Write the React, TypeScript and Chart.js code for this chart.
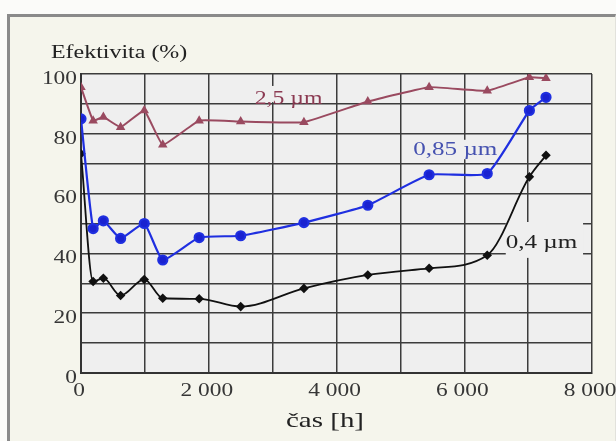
import React, { useEffect, useRef } from "react";
import { Chart, registerables } from "chart.js";

Chart.register(...registerables);

// time in hours
const hours = [0, 190, 350, 620, 990, 1280, 1850, 2500, 3490, 4490, 5450, 6360, 7020, 7280];
// efficiency (%) per particle size
const eff25 = [95.6, 84.4, 85.6, 82.2, 87.8, 76.3, 84.4, 84.1, 83.9, 90.8, 95.6, 94.4, 98.9, 98.6];
const eff085 = [85, 48.3, 50.9, 45, 50, 37.8, 45.3, 45.9, 50.3, 56.1, 66.3, 66.7, 87.8, 92.2];
const eff04 = [73.3, 30.6, 31.7, 25.9, 31.3, 25, 24.8, 22.2, 28.3, 32.8, 35, 39.4, 65.6, 72.8];

const seriesNames = ["2,5 µm", "0,85 µm", "0,4 µm"];
const xTickValues = [0, 2000, 4000, 6000, 8000];
const xTickTexts = ["0", "2 000", "4 000", "6 000", "8 000"];
const yTickValues = [0, 20, 40, 60, 80, 100];
const yTickTexts = ["0", "20", "40", "60", "80", "100"];
const yTitle = "Efektivita (%)";
const xTitle = "čas [h]";

const SERIF = "'Liberation Serif', 'DejaVu Serif', serif";

const toPts = (ys: number[]) => hours.map((h, i) => ({ x: h, y: ys[i] }));

// draw horizontally stretched serif text (the reference text is wide)
function stxt(
  ctx: CanvasRenderingContext2D,
  text: string,
  x: number,
  y: number,
  size: number,
  sx: number,
  align: "left" | "center" | "right",
  color: string
) {
  ctx.save();
  ctx.font = `${size}px ${SERIF}`;
  ctx.fillStyle = color;
  ctx.textBaseline = "middle";
  ctx.textAlign = "left";
  const w = ctx.measureText(text).width * sx;
  const left = align === "center" ? x - w / 2 : align === "right" ? x - w : x;
  ctx.translate(left, y);
  ctx.scale(sx, 1);
  ctx.fillText(text, 0, 0);
  ctx.restore();
}

const labelPlugin = {
  id: "labelPlugin",
  beforeDraw(chart: any) {
    const { ctx, chartArea } = chart;
    ctx.save();
    ctx.fillStyle = "#efefef";
    ctx.fillRect(chartArea.left, chartArea.top, chartArea.right - chartArea.left, chartArea.bottom - chartArea.top);
    ctx.restore();
  },
  beforeDatasetsDraw(chart: any) {
    const { ctx } = chart;
    const xs = chart.scales.x;
    const ys = chart.scales.y;
    ctx.save();
    ctx.fillStyle = "#efefef";
    const box = (x0: number, x1: number, y0: number, y1: number) => {
      const a = xs.getPixelForValue(x0);
      const b = xs.getPixelForValue(x1);
      const c = ys.getPixelForValue(y0);
      const d = ys.getPixelForValue(y1);
      ctx.fillRect(a, d, b - a, c - d);
    };
    box(2700, 3800, 90.6, 96);
    box(5200, 6520, 71.5, 78);
    box(6650, 7860, 38.5, 50.5);
    ctx.restore();
  },
  afterDatasetsDraw(chart: any) {
    const { ctx } = chart;
    const xs = chart.scales.x;
    const ys = chart.scales.y;
    stxt(ctx, seriesNames[0], xs.getPixelForValue(3250), ys.getPixelForValue(91.4), 18, 1.32, "center", "#8b3a52");
    stxt(ctx, seriesNames[1], xs.getPixelForValue(5860), ys.getPixelForValue(74.6), 19, 1.32, "center", "#4652b0");
    stxt(ctx, seriesNames[2], xs.getPixelForValue(7210), ys.getPixelForValue(43.5), 19, 1.32, "center", "#222222");
  },
  afterDraw(chart: any) {
    const { ctx, chartArea } = chart;
    const xs = chart.scales.x;
    const ys = chart.scales.y;
    xTickValues.forEach((v, i) => {
      stxt(ctx, xTickTexts[i], xs.getPixelForValue(v) - 2, chartArea.bottom + 18, 18, 1.3, "center", "#363636");
    });
    yTickValues.forEach((v, i) => {
      stxt(ctx, yTickTexts[i], chartArea.left - 4, ys.getPixelForValue(v) + 5, 18, 1.3, "right", "#363636");
    });
    stxt(ctx, yTitle, 51, 53, 18, 1.33, "left", "#222222");
    stxt(ctx, xTitle, 325, 421, 21, 1.38, "center", "#222222");
  },
};

export default function App() {
  const ref = useRef<HTMLCanvasElement | null>(null);
  useEffect(() => {
    document.body.style.margin = "0";
    const canvas = ref.current;
    if (!canvas) return;
    const chart = new Chart(canvas, {
      type: "line",
      data: {
        datasets: [
          {
            label: seriesNames[0],
            data: toPts(eff25),
            borderColor: "#9a4a60",
            backgroundColor: "#9a4a60",
            borderWidth: 2,
            pointStyle: "triangle",
            pointRadius: 3.5,
            tension: 0.1,
          },
          {
            label: seriesNames[1],
            data: toPts(eff085),
            borderColor: "#1f2fe0",
            backgroundColor: "#1a22d0",
            borderWidth: 2.2,
            pointStyle: "circle",
            pointRadius: 4.5,
            tension: 0.15,
          },
          {
            label: seriesNames[2],
            data: toPts(eff04),
            borderColor: "#111111",
            backgroundColor: "#111111",
            borderWidth: 1.8,
            pointStyle: "rectRot",
            pointRadius: 3.5,
            cubicInterpolationMode: "monotone",
          },
        ],
      },
      options: {
        animation: false,
        responsive: false,
        devicePixelRatio: 1,
        layout: { padding: { left: 0, top: 74, right: 24, bottom: 0 } },
        plugins: { legend: { display: false }, tooltip: { enabled: false }, title: { display: false } },
        scales: {
          x: {
            type: "linear",
            min: 0,
            max: 8000,
            afterFit: (s: any) => {
              s.height = 68;
            },
            ticks: { stepSize: 1000, autoSkip: false, display: false },
            grid: { color: "#3c3c3c", lineWidth: 1.5, drawTicks: false },
            border: { display: true, color: "#333333", width: 2 },
          },
          y: {
            type: "linear",
            min: 0,
            max: 100,
            afterFit: (s: any) => {
              s.width = 81;
            },
            ticks: { stepSize: 10, autoSkip: false, display: false },
            grid: { color: "#3c3c3c", lineWidth: 1.5, drawTicks: false },
            border: { display: true, color: "#333333", width: 2 },
          },
        },
      },
      plugins: [labelPlugin],
    } as any);
    return () => chart.destroy();
  }, []);

  return (
    <div style={{ position: "relative", width: 616, height: 441, background: "#fbfbf9", overflow: "hidden" }}>
      <div
        style={{
          position: "absolute",
          left: 7,
          top: 14,
          width: 605,
          height: 440,
          background: "#f5f5ec",
          borderLeft: "3px solid #8a8a8a",
          borderTop: "3px solid #8a8a8a",
          borderRight: "1px solid #e2e2dc",
        }}
      />
      <canvas ref={ref} width={616} height={441} style={{ position: "absolute", left: 0, top: 0, width: 616, height: 441 }} />
    </div>
  );
}
